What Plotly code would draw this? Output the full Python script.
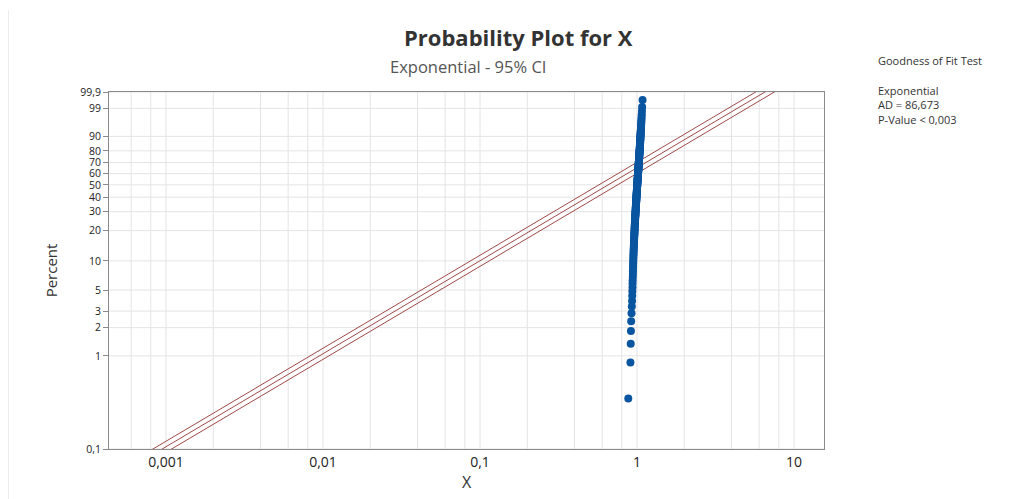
import numpy as np
import plotly.graph_objects as go

x_values = [
    0.880, 0.908, 0.912, 0.915, 0.918, 0.923, 0.927, 0.930, 0.932, 0.934,
    0.936, 0.937, 0.938, 0.940, 0.941, 0.942, 0.943, 0.944, 0.945, 0.946,
    0.947, 0.948, 0.949, 0.950, 0.951, 0.952, 0.953, 0.954, 0.955, 0.956,
    0.957, 0.958, 0.958, 0.959, 0.960, 0.961, 0.962, 0.962, 0.963, 0.964,
    0.965, 0.966, 0.966, 0.967, 0.968, 0.969, 0.969, 0.970, 0.971, 0.972,
    0.972, 0.973, 0.974, 0.975, 0.975, 0.976, 0.977, 0.977, 0.978, 0.979,
    0.979, 0.980, 0.981, 0.981, 0.982, 0.983, 0.983, 0.984, 0.985, 0.985,
    0.986, 0.987, 0.987, 0.988, 0.989, 0.989, 0.990, 0.990, 0.991, 0.992,
    0.992, 0.993, 0.993, 0.994, 0.995, 0.995, 0.996, 0.996, 0.997, 0.998,
    0.998, 0.999, 0.999, 1.000, 1.000, 1.001, 1.002, 1.002, 1.003, 1.003,
    1.004, 1.004, 1.005, 1.006, 1.006, 1.007, 1.007, 1.008, 1.008, 1.009,
    1.010, 1.010, 1.011, 1.011, 1.012, 1.012, 1.013, 1.014, 1.014, 1.015,
    1.015, 1.016, 1.016, 1.017, 1.018, 1.018, 1.019, 1.019, 1.020, 1.020,
    1.021, 1.022, 1.022, 1.023, 1.023, 1.024, 1.025, 1.025, 1.026, 1.026,
    1.027, 1.028, 1.028, 1.029, 1.029, 1.030, 1.031, 1.031, 1.032, 1.032,
    1.033, 1.034, 1.034, 1.035, 1.035, 1.036, 1.037, 1.037, 1.038, 1.038,
    1.039, 1.040, 1.040, 1.041, 1.041, 1.042, 1.043, 1.043, 1.044, 1.045,
    1.045, 1.046, 1.047, 1.047, 1.048, 1.049, 1.049, 1.050, 1.051, 1.052,
    1.052, 1.053, 1.054, 1.055, 1.056, 1.057, 1.058, 1.059, 1.060, 1.061,
    1.062, 1.063, 1.065, 1.066, 1.068, 1.070, 1.072, 1.075, 1.078, 1.085,
]

# fitted exponential scale and 95% CI scales
fit_scale = 0.945
ci_low_scale = 0.825
ci_high_scale = 1.085

percent_ticks = [0.1, 1, 2, 3, 5, 10, 20, 30, 40, 50, 60, 70, 80, 90, 99, 99.9]
percent_labels = ["0,1", "1", "2", "3", "5", "10", "20", "30", "40", "50",
                  "60", "70", "80", "90", "99", "99,9"]
x_tick_vals = [0.001, 0.01, 0.1, 1, 10]
x_tick_labels = ["0,001", "0,01", "0,1", "1", "10"]

gof_lines = ["Goodness of Fit Test", "", "Exponential", "AD = 86,673", "P-Value < 0,003"]


def expo_y(pct):
    p = np.asarray(pct, dtype=float) / 100.0
    return -np.log(1.0 - p)


n = len(x_values)
ranks = np.arange(1, n + 1)
pct_pos = (ranks - 0.3) / (n + 0.4) * 100.0  # median ranks
y_pts = expo_y(pct_pos)

y_lo = expo_y(0.1)
y_hi = expo_y(99.9)
line_y = np.array([y_lo * 0.5, y_hi * 2])

FONT = "Open Sans"
fig = go.Figure()

for sc in [ci_low_scale, fit_scale, ci_high_scale]:
    fig.add_trace(go.Scatter(
        x=line_y * sc, y=line_y, mode="lines",
        line=dict(color="#a04848", width=1), hoverinfo="skip", showlegend=False))

fig.add_trace(go.Scatter(
    x=x_values, y=y_pts, mode="markers",
    marker=dict(color="#0a55a0", size=8, line=dict(width=0)),
    showlegend=False))

# vertical grid values 1,2,4,6,8 per decade
grid_x = []
for e in range(-4, 2):
    for m in [1, 2, 4, 6, 8]:
        grid_x.append(m * 10.0 ** e)

x_range = [-3.363, 1.191]
y_range = [np.log10(y_lo), np.log10(y_hi)]

# plot-area geometry in page pixels (page has an 8px body offset)
PL, PR, PT, PB = 109, 824, 92, 449
PW, PH = PR - PL, PB - PT


def px(xp):
    return (xp - PL) / PW


def py(yp):
    return (PB - yp) / PH


shapes = []
for g in grid_x:
    if x_range[0] < np.log10(g) < x_range[1]:
        shapes.append(dict(type="line", xref="x", yref="paper", x0=g, x1=g, y0=0, y1=1,
                           line=dict(color="#e4e4e4", width=1), layer="below"))
for t in percent_ticks:
    yy = float(expo_y(t))
    shapes.append(dict(type="line", xref="paper", yref="y", x0=0, x1=1, y0=yy, y1=yy,
                       line=dict(color="#e4e4e4", width=1), layer="below"))
# faint frame line at left of image
shapes.append(dict(type="line", xref="paper", yref="paper", x0=px(8), x1=px(8),
                   y0=py(10), y1=py(499), line=dict(color="#dcdcdc", width=1)))

annotations = [
    dict(text="<b>Probability Plot for X</b>", xref="paper", yref="paper",
         x=px(518), y=py(37), showarrow=False,
         font=dict(family=FONT, size=22, color="#333333"), xanchor="center", yanchor="middle"),
    dict(text="Exponential - 95% CI", xref="paper", yref="paper",
         x=px(468), y=py(66), showarrow=False,
         font=dict(family=FONT, size=16.5, color="#555555"), xanchor="center", yanchor="middle"),
]
gof_y = [60, 75, 90, 104.5, 119.5]
for txt, yy in zip(gof_lines, gof_y):
    if txt:
        annotations.append(dict(text=txt, xref="paper", yref="paper",
                                x=px(876), y=py(yy), showarrow=False,
                                font=dict(family=FONT, size=11, color="#333333"),
                                xanchor="left", yanchor="middle"))

fig.update_layout(
    width=1016, height=499,
    margin=dict(l=PL - 8, r=1016 - (PL - 8) - PW, t=PT - 8, b=499 - (PT - 8) - PH),
    paper_bgcolor="white", plot_bgcolor="white",
    font=dict(family=FONT, color="#333333"),
    shapes=shapes, annotations=annotations,
    xaxis=dict(type="log", range=x_range, tickvals=x_tick_vals, ticktext=x_tick_labels,
               showgrid=False, zeroline=False, showline=True, linecolor="#8a8a8a",
               mirror=True, ticks="", tickfont=dict(family=FONT, size=14, color="#222222"),
               title=dict(text="X", font=dict(family=FONT, size=16, color="#333333"), standoff=6)),
    yaxis=dict(type="log", range=y_range,
               tickvals=[float(v) for v in expo_y(percent_ticks)], ticktext=percent_labels,
               showgrid=False, zeroline=False, showline=True, linecolor="#8a8a8a",
               mirror=True, ticks="outside", ticklen=5, tickcolor="#8a8a8a",
               tickfont=dict(family=FONT, size=10.5, color="#222222"),
               title=dict(text="Percent", font=dict(family=FONT, size=15, color="#333333"),
                          standoff=18)),
)

fig.write_html("out.html")
